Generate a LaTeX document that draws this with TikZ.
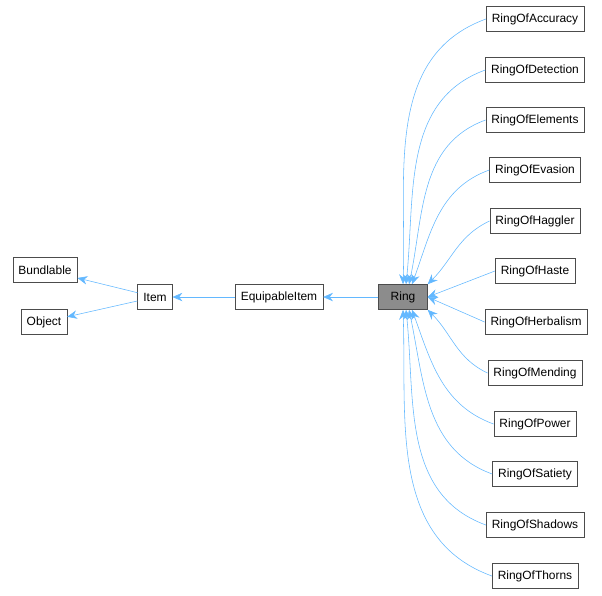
\documentclass[tikz,border=0pt]{standalone}
\usepackage{fontspec}
\setmainfont{Liberation Sans}
\usetikzlibrary{arrows.meta, calc}
\definecolor{edgeblue}{HTML}{63B8FF}

\begin{document}
\begin{tikzpicture}[x=0.025cm, y=-0.025cm,
	box/.style={draw=black!70, fill=white, minimum height=0.625cm, inner xsep=4pt, font=\fontsize{8.5}{10}\selectfont},
	edge/.style={draw=edgeblue, -{Stealth[length=7pt,width=6pt]}}]
	\useasboundingbox (0,0) rectangle (602,595);

		\node[box] (Bundlable) at (45,270) {Bundlable};
		\node[box] (Object) at (44,322) {Object};
		\node[box] (Item) at (155,297) {Item};
		\node[box] (Equip) at (279,297) {EquipableItem};
		\node[box, fill=black!45, minimum width=1.22cm] (Ring) at (403,297) {Ring};

		\node[box] (R1) at (535,19) {RingOfAccuracy};
		\node[box] (R2) at (535,70) {RingOfDetection};
		\node[box] (R3) at (535,120) {RingOfElements};
		\node[box] (R4) at (535,170) {RingOfEvasion};
		\node[box] (R5) at (535,221) {RingOfHaggler};
		\node[box] (R6) at (535,271) {RingOfHaste};
		\node[box] (R7) at (536,322) {RingOfHerbalism};
		\node[box] (R8) at (535,373) {RingOfMending};
		\node[box] (R9) at (535,424) {RingOfPower};
		\node[box] (R10) at (535,474) {RingOfSatiety};
		\node[box] (R11) at (535,525) {RingOfShadows};
		\node[box] (R12) at (535,576) {RingOfThorns};

		\draw[edge] (Item) -- (Bundlable);
		\draw[edge] (Item) -- (Object);
		\draw[edge] (Equip) -- (Item);
		\draw[edge] (Ring) -- (Equip);

		\draw[edge] (R1.west) to[out=200, in=88] ($(Ring.north)+(-0,0)$);
		\draw[edge] (R2.west) to[out=200, in=84] ($(Ring.north)+(3,0)$);
		\draw[edge] (R3.west) to[out=200, in=78] ($(Ring.north)+(6,0)$);
		\draw[edge] (R4.west) to[out=200, in=70] ($(Ring.north)+(9,0)$);
		\draw[edge] (R5.west) to[out=205, in=45] (Ring.north east);
		\draw[edge] (R6.west) -- (Ring.east);
		\draw[edge] (R7.west) -- (Ring.east);
		\draw[edge] (R8.west) to[out=155, in=-45] (Ring.south east);
		\draw[edge] (R9.west) to[out=160, in=-70] ($(Ring.south)+(9,0)$);
		\draw[edge] (R10.west) to[out=160, in=-78] ($(Ring.south)+(6,0)$);
		\draw[edge] (R11.west) to[out=160, in=-84] ($(Ring.south)+(3,0)$);
		\draw[edge] (R12.west) to[out=160, in=-88] ($(Ring.south)+(0,0)$);
\end{tikzpicture}
\end{document}
